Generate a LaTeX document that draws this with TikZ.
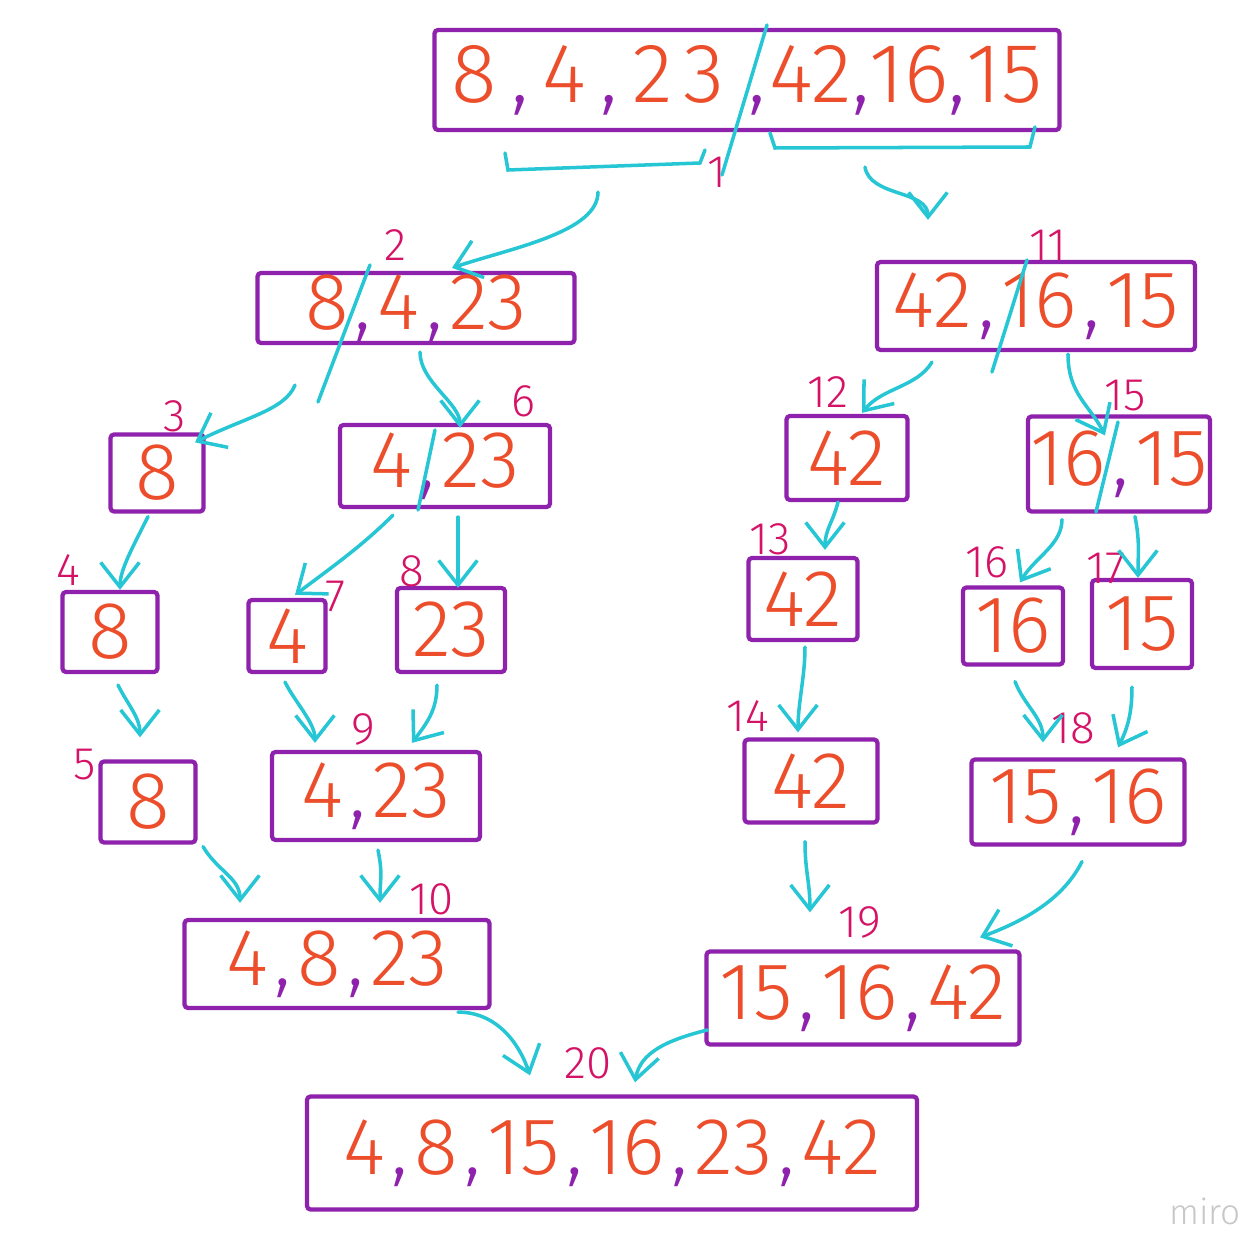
\documentclass[tikz,border=0pt]{standalone}
\usepackage{fontspec}
\setmainfont{Fira Sans}[UprightFont={* Light}]
\usetikzlibrary{arrows.meta,calc}
\definecolor{boxpurple}{RGB}{142,34,172}
\definecolor{numred}{RGB}{236,78,44}
\definecolor{arrowcyan}{RGB}{38,198,212}
\definecolor{stepred}{RGB}{212,18,102}
\newcommand{\cma}{\kern1.8pt\textcolor{boxpurple}{,}\kern1.8pt}
\newcommand{\cmb}{\textcolor{boxpurple}{,}}

\begin{document}
\begin{tikzpicture}[x=0.01cm,y=-0.01cm,
  box/.style 2 args={draw=boxpurple,line width=1.2pt,rounded corners=1pt,
    minimum width=#1*0.01cm,minimum height=#2*0.01cm,inner sep=0pt,
    text=numred,font=\fontsize{23}{25}\selectfont},
  lbl/.style={text=stepred,inner sep=0pt,font=\fontsize{13}{15}\selectfont},
  arr/.style={draw=arrowcyan,line width=1pt,line cap=round,
    -{Straight Barb[length=7pt,width=11pt]}},
  cut/.style={draw=arrowcyan,line width=1pt,line cap=round}]
\useasboundingbox (0,0) rectangle (1253,1246);

% boxes
\node[box={625}{100},font=\fontsize{24}{26}\selectfont] (b1) at (747,80) {8\kern4pt\cmb\kern4pt4\kern4pt\cmb\kern4pt2\kern3pt3\kern7pt\cmb\kern1pt42\cmb16\cmb15};
\node[box={317}{70}] (b2) at (416,308) {8\cma4\cma23};
\node[box={93}{77}] (b3) at (157,473) {8};
\node[box={95}{80}] (b4) at (110,632) {8};
\node[box={95}{81}] (b5) at (148,802) {8};
\node[box={210}{82}] (b6) at (445,466) {4\cma23};
\node[box={77}{72}] (b7) at (287,636) {4};
\node[box={108}{84}] (b8) at (451,630) {23};
\node[box={208}{88}] (b9) at (376,796) {4\cma23};
\node[box={305}{88}] (b10) at (337,964) {4\cma8\cma23};
\node[box={318}{88}] (b11) at (1036,306) {42\cma16\cma15};
\node[box={121}{84}] (b12) at (847,458) {42};
\node[box={109}{82}] (b13) at (803,599) {42};
\node[box={133}{83}] (b14) at (811,781) {42};
\node[box={182}{95}] (b15) at (1119,464) {16\cma15};
\node[box={100}{77}] (b16) at (1013,626) {16};
\node[box={100}{88}] (b17) at (1142,624) {15};
\node[box={213}{85}] (b18) at (1078,802) {15\cma16};
\node[box={313}{93}] (b19) at (863,998) {15\cma16\cma42};
\node[box={610}{113}] (b20) at (612,1153) {4\cma8\cma15\cma16\cma23\cma42};

% step numbers
\foreach \n/\x/\y in {1/717/172,2/395/245,3/175/416,4/68/570,5/85/765,
  6/523/401,7/335/596,8/412/571,9/363/729,10/432/899,11/1048/245,
  12/828/392,13/770/539,14/748/716,15/1125/396,16/987/562,17/1106/568,
  18/1073/728,19/860/922,20/588/1063}
  \node[lbl] (l\n) at (\x,\y) {\n};

% split marks
\draw[cut] (767,25) -- (722,175);
\draw[cut] (370,265) -- (318,402);
\draw[cut] (435,430) -- (418,510);
\draw[cut] (1027,260) -- (992,372);
\draw[cut] (1118,422) -- (1096,512);
\draw[cut] (505,153) -- (508,170) -- (700,163) -- (705,150);
\draw[cut] (770,133) -- (775,148) -- (1030,147) -- (1035,127);

% arrows
\draw[arr] ($(b1.south)+(-149,60)$) .. controls +(0,40) and +(60,-20) .. ($(b2.north)+(36,-3)$);
\draw[arr] ($(b1.south)+(118,35)$) .. controls +(5,30) and +(0,-30) .. ($(b11.north)+(-108,-40)$);
\draw[arr] ($(b2.south)+(-121,40)$) .. controls +(-10,25) and +(50,-25) .. ($(b3.north)+(38,10)$);
\draw[arr] ($(b2.south)+(4,7)$) .. controls +(0,30) and +(0,-25) .. ($(b6.north)+(15,5)$);
\draw[arr] ($(b3.south)+(-9,3)$) .. controls +(-15,30) and +(0,-20) .. ($(b4.north)+(10,0)$);
\draw[arr] ($(b6.south)+(-52,6)$) .. controls +(-30,30) and +(40,-30) .. ($(b7.north)+(8,-3)$);
\draw[arr] ($(b6.south)+(13,8)$) .. controls +(0,25) and +(0,-25) .. ($(b8.north)+(7,2)$);
\draw[arr] ($(b4.south)+(8,11)$) .. controls +(10,20) and +(0,-20) .. ($(b5.north)+(-8,-22)$);
\draw[arr] ($(b7.south)+(-2,8)$) .. controls +(10,20) and +(0,-20) .. ($(b9.north)+(-61,-7)$);
\draw[arr] ($(b8.south)+(-14,11)$) .. controls +(0,25) and +(15,-20) .. ($(b9.north)+(36,-7)$);
\draw[arr] ($(b5.south)+(55,2)$) .. controls +(15,25) and +(0,-25) .. ($(b10.north)+(-97,-15)$);
\draw[arr] ($(b9.south)+(2,8)$) .. controls +(5,25) and +(0,-25) .. ($(b10.north)+(43,-15)$);
\draw[arr] ($(b10.south)+(121,2)$) .. controls +(40,0) and +(-10,-30) .. ($(b20.north)+(-82,-19)$);
\draw[arr] ($(b19.west)+(3,32)$) .. controls +(-40,10) and +(5,-30) .. ($(b20.north)+(23,-12)$);
\draw[arr] ($(b11.south)+(-104,10)$) .. controls +(-15,25) and +(20,-25) .. ($(b12.north)+(15,-1)$);
\draw[arr] ($(b11.south)+(32,2)$) .. controls +(0,40) and +(-15,-30) .. ($(b15.north)+(-14,21)$);
\draw[arr] ($(b12.south)+(-9,0)$) .. controls +(-5,20) and +(0,-20) .. ($(b13.north)+(22,-6)$);
\draw[arr] ($(b13.south)+(2,5)$) .. controls +(0,30) and +(0,-30) .. ($(b14.north)+(-13,-5)$);
\draw[arr] ($(b15.south)+(-57,6)$) .. controls +(0,25) and +(15,-25) .. ($(b16.north)+(7,-3)$);
\draw[arr] ($(b15.south)+(16,3)$) .. controls +(5,25) and +(0,-25) .. ($(b17.north)+(-4,0)$);
\draw[arr] ($(b16.south)+(2,15)$) .. controls +(10,25) and +(0,-25) .. ($(b18.north)+(-35,-15)$);
\draw[arr] ($(b17.south)+(-10,17)$) .. controls +(0,25) and +(10,-20) .. ($(b18.north)+(40,-10)$);
\draw[arr] ($(b14.south)+(-6,17)$) .. controls +(0,30) and +(0,-30) .. ($(b19.north)+(-53,-37)$);
\draw[arr] ($(b18.south)+(4,15)$) .. controls +(-20,40) and +(40,-15) .. ($(b19.north)+(117,-12)$);

\node[text=black!22,font=\fontsize{10}{12}\selectfont] (miro) at (1205,1211) {miro};
\end{tikzpicture}
\end{document}
